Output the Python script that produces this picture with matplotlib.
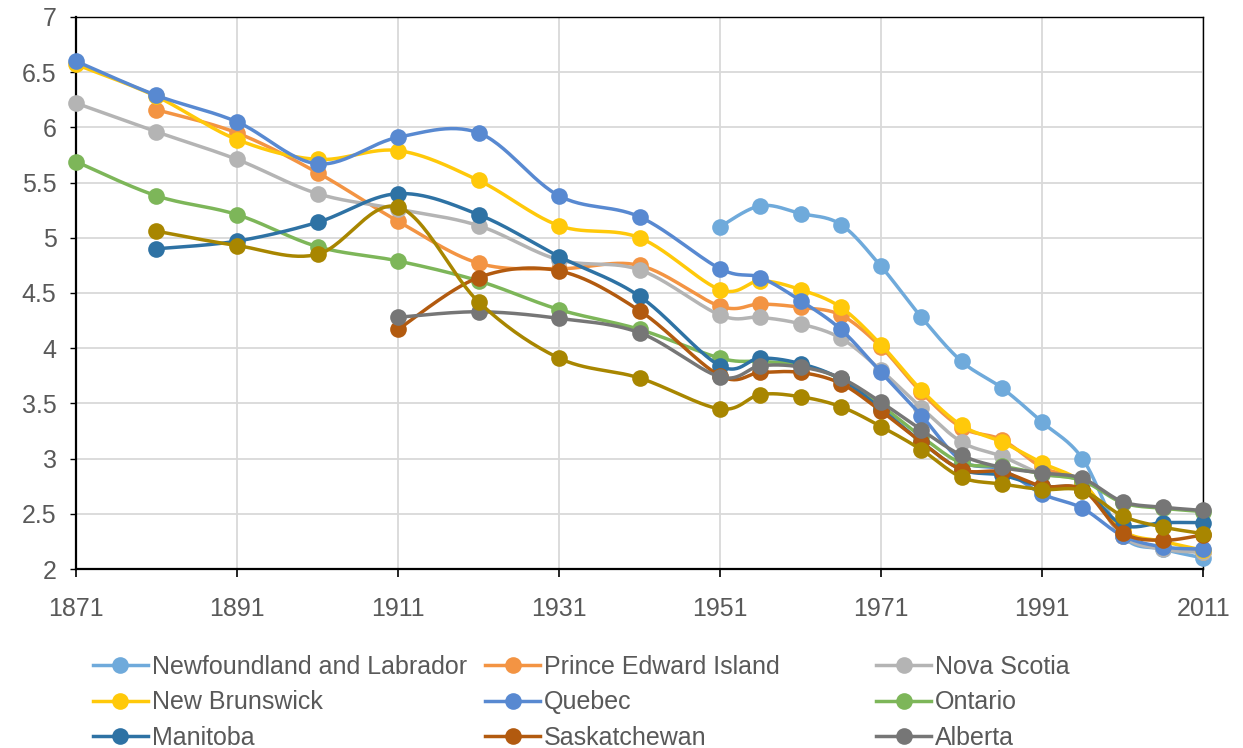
import numpy as np
import matplotlib
matplotlib.use("Agg")
import matplotlib.pyplot as plt
from matplotlib.lines import Line2D

years = [1871, 1881, 1891, 1901, 1911, 1921, 1931, 1941, 1951, 1956, 1961,
         1966, 1971, 1976, 1981, 1986, 1991, 1996, 2001, 2006, 2011]
N = None

newfoundland = [N, N, N, N, N, N, N, N, 5.10, 5.29, 5.22, 5.12, 4.74, 4.28,
                3.88, 3.64, 3.33, 3.00, 2.30, 2.18, 2.10]
pei = [N, 6.16, 5.95, 5.59, 5.15, 4.77, 4.72, 4.75, 4.38, 4.40, 4.37, 4.30,
       4.01, 3.60, 3.28, 3.17, 2.92, 2.78, 2.30, 2.20, 2.15]
nova_scotia = [6.22, 5.96, 5.71, 5.40, 5.26, 5.11, 4.80, 4.71, 4.30, 4.28,
               4.22, 4.09, 3.80, 3.46, 3.15, 3.02, 2.86, 2.78, 2.30, 2.18, 2.15]
new_brunswick = [6.57, 6.28, 5.89, 5.71, 5.79, 5.52, 5.11, 5.00, 4.53, 4.61,
                 4.53, 4.37, 4.03, 3.62, 3.30, 3.15, 2.96, 2.78, 2.35, 2.25, 2.17]
quebec = [6.60, 6.29, 6.05, 5.67, 5.91, 5.95, 5.38, 5.19, 4.72, 4.64, 4.43,
          4.17, 3.78, 3.39, 2.98, 2.90, 2.68, 2.55, 2.30, 2.20, 2.18]
ontario = [5.69, 5.38, 5.21, 4.92, 4.79, 4.61, 4.35, 4.17, 3.91, 3.88, 3.85,
           3.72, 3.48, 3.20, 2.96, 2.93, 2.86, 2.80, 2.60, 2.55, 2.52]
manitoba = [N, 4.90, 4.97, 5.14, 5.40, 5.21, 4.83, 4.47, 3.84, 3.91, 3.86,
            3.72, 3.45, 3.15, 2.90, 2.85, 2.75, 2.72, 2.40, 2.42, 2.42]
saskatchewan = [N, N, N, N, 4.17, 4.64, 4.70, 4.34, 3.75, 3.78, 3.78, 3.68,
                3.43, 3.15, 2.90, 2.88, 2.75, 2.72, 2.33, 2.26, 2.31]
alberta = [N, N, N, N, 4.28, 4.33, 4.27, 4.14, 3.74, 3.84, 3.83, 3.73, 3.51,
           3.26, 3.03, 2.92, 2.87, 2.82, 2.61, 2.56, 2.53]
british_columbia = [N, 5.06, 4.93, 4.85, 5.28, 4.42, 3.91, 3.73, 3.45, 3.58,
                    3.56, 3.47, 3.29, 3.08, 2.83, 2.77, 2.72, 2.71, 2.48, 2.38, 2.32]

series = [
    ("Newfoundland and Labrador", newfoundland, "#6FAADB"),
    ("Prince Edward Island", pei, "#F39443"),
    ("Nova Scotia", nova_scotia, "#B4B4B4"),
    ("New Brunswick", new_brunswick, "#FFC90A"),
    ("Quebec", quebec, "#5889D1"),
    ("Ontario", ontario, "#7DB659"),
    ("Manitoba", manitoba, "#2E72A4"),
    ("Saskatchewan", saskatchewan, "#B25A0F"),
    ("Alberta", alberta, "#767676"),
    ("British Columbia", british_columbia, "#A88600"),
]

# screen-ish scaling for the smoothing (px per year, px per unit)
SX, SY = 8.05, 110.4


def smooth(xs, ys, n=30):
    p = np.column_stack([np.array(xs) * SX, np.array(ys) * SY])
    if len(p) < 3:
        return np.array(xs), np.array(ys)
    out = [p[0]]
    for i in range(len(p) - 1):
        p0 = p[i - 1] if i > 0 else p[i]
        p1, p2 = p[i], p[i + 1]
        p3 = p[i + 2] if i + 2 < len(p) else p[i + 1]
        c1 = p1 + (p2 - p0) / 6
        c2 = p2 - (p3 - p1) / 6
        t = np.linspace(0, 1, n)[1:, None]
        seg = ((1 - t) ** 3 * p1 + 3 * (1 - t) ** 2 * t * c1
               + 3 * (1 - t) * t ** 2 * c2 + t ** 3 * p2)
        out.extend(seg)
    out = np.array(out)
    return out[:, 0] / SX, out[:, 1] / SY


plt.rcParams["font.family"] = ["Liberation Sans", "DejaVu Sans"]

fig = plt.figure(figsize=(12.43, 7.48), dpi=100)
ax = fig.add_axes([0.0611, 0.2393, 0.9069, 0.7380])

for name, vals, col in series:
    xs = [y for y, v in zip(years, vals) if v is not None]
    ys = [v for v in vals if v is not None]
    sx, sy = smooth(xs, ys)
    ax.plot(sx, sy, color=col, lw=2.5, solid_capstyle="round", zorder=3,
            clip_on=False)
    ax.plot(xs, ys, "o", color=col, ms=12, mec="none", zorder=3,
            clip_on=False)

ax.set_xlim(1871, 2011)
ax.set_ylim(2, 7)
ax.set_xticks(range(1871, 2012, 20))
ax.set_yticks(np.arange(2, 7.01, 0.5))
ax.set_yticklabels(["2", "2.5", "3", "3.5", "4", "4.5", "5", "5.5", "6", "6.5", "7"])
ax.grid(True, color="#D9D9D9", lw=1.3)
ax.set_axisbelow(True)
for s in ax.spines.values():
    s.set_color("black")
    s.set_linewidth(1.0)
ax.spines["bottom"].set_linewidth(1.6)
ax.spines["left"].set_linewidth(1.6)
ax.tick_params(axis="x", direction="out", length=6, width=1.2, colors="black",
               labelcolor="#595959", labelsize=18, pad=14)
ax.tick_params(axis="y", direction="out", length=4, width=1.0, colors="black",
               labelcolor="#595959", labelsize=18, pad=10)

# legend: three columns, each its own legend so the columns sit where they do
cols_x = [0.0748, 0.3902, 0.7048]
for c in range(3):
    idx = [c, c + 3, c + 6]
    hs = [Line2D([], [], color=series[i][2], lw=2.5, marker="o", ms=12,
                 mec="none") for i in idx]
    ls = [series[i][0] for i in idx]
    leg = fig.legend(hs, ls, loc="upper left", bbox_to_anchor=(cols_x[c], 0.124),
                     frameon=False, fontsize=18, handlelength=2.2,
                     handletextpad=0.15, labelspacing=0.45,
                     borderaxespad=0, borderpad=0)
    for t in leg.get_texts():
        t.set_color("#595959")

fig.savefig("out.png", dpi=100)
